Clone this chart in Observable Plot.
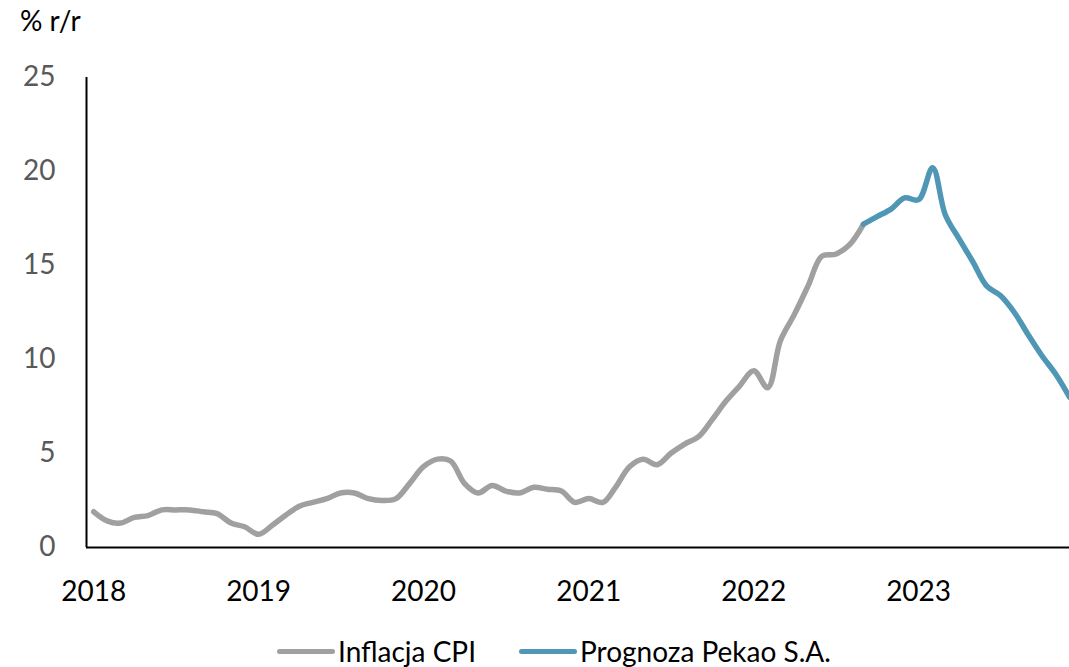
<!DOCTYPE html>
<html>
<head>
<meta charset="utf-8">
<script src="https://cdn.jsdelivr.net/npm/d3@7"></script>
<script src="https://cdn.jsdelivr.net/npm/@observablehq/plot@0.6"></script>
<style>
  html, body { margin: 0; padding: 0; background: #fff; }
  body { font-family: Lato, "Open Sans", sans-serif; }
  #wrap { position: relative; width: 1069px; height: 667px; overflow: hidden; }
  #title { position: absolute; left: 20px; top: 0px; font-size: 28px; color: #000; line-height: 40px; }
  #chart { position: absolute; left: 0; top: 40px; }
  .leg { position: absolute; top: 637px; height: 28px; display: flex; align-items: center; font-size: 28px; line-height: 28px; color: #000; white-space: nowrap; }
  .leg .sw { width: 58px; height: 5px; border-radius: 3px; margin-right: 3px; }
</style>
</head>
<body>
<div id="wrap">
  <div id="title">% r/r</div>
  <div id="chart"></div>
  <div class="leg" style="left:277px"><div class="sw" style="background:#a0a0a0"></div><span>Inflacja CPI</span></div>
  <div class="leg" style="left:519px"><div class="sw" style="background:#4f97b5"></div><span>Prognoza Pekao S.A.</span></div>
</div>
<script>
// Series names
const seriesNames = ["Inflacja CPI", "Prognoza Pekao S.A."];

// Inflacja CPI, monthly from 2018-01 to 2022-09 (% r/r)
const cpiStart = "2018-01-01";
const cpiValues = [
  1.9, 1.4, 1.3, 1.6, 1.7, 2.0, 2.0, 2.0, 1.9, 1.8, 1.3, 1.1,
  0.7, 1.2, 1.7, 2.2, 2.4, 2.6, 2.9, 2.9, 2.6, 2.5, 2.6, 3.4,
  4.3, 4.7, 4.6, 3.4, 2.9, 3.3, 3.0, 2.9, 3.2, 3.1, 3.0, 2.4,
  2.6, 2.4, 3.2, 4.3, 4.7, 4.4, 5.0, 5.5, 5.9, 6.8, 7.8, 8.6,
  9.4, 8.5, 11.0, 12.4, 13.9, 15.5, 15.6, 16.1, 17.2
];

// Prognoza Pekao S.A., monthly from 2022-09 to 2023-12 (% r/r)
const forecastStart = "2022-09-01";
const forecastValues = [
  17.2, 17.6, 18.0, 18.6, 18.5, 20.2, 17.7, 16.4, 15.2, 13.9, 13.4, 12.5, 11.3, 10.2, 9.2, 8.0
];

// Axis ticks
const yearTicks = ["2018", "2019", "2020", "2021", "2022", "2023"];
const yTicks = [0, 5, 10, 15, 20, 25];

const toRows = (start, values, series) => {
  const s = new Date(start);
  return values.map((v, i) => ({ date: d3.utcMonth.offset(s, i), value: v, series }));
};
const cpiRows = toRows(cpiStart, cpiValues, seriesNames[0]);
const fcRows = toRows(forecastStart, forecastValues, seriesNames[1]);

const xStart = new Date("2017-12-16");
const xEnd = new Date("2023-12-01");

const chart = Plot.plot({
  width: 1069,
  height: 575,
  marginLeft: 86,
  marginRight: 0,
  marginTop: 37,
  marginBottom: 68,
  style: { fontFamily: "Lato, 'Open Sans', sans-serif", fontSize: "28px", background: "#fff", overflow: "visible" },
  x: { type: "utc", domain: [xStart, xEnd] },
  y: { domain: [0, 25] },
  marks: [
    Plot.axisY({ ticks: yTicks, tickSize: 0, tickPadding: 31, label: null, fill: "#595959", fontSize: 28 }),
    Plot.axisX({ ticks: yearTicks.map(y => new Date(y + "-01-01")), tickFormat: d3.utcFormat("%Y"), tickSize: 0, tickPadding: 34, label: null, fill: "#000", fontSize: 28 }),
    Plot.line(cpiRows, { x: "date", y: "value", stroke: "#a0a0a0", strokeWidth: 5.5, curve: "catmull-rom", strokeLinecap: "round", strokeLinejoin: "round" }),
    Plot.line(fcRows, { x: "date", y: "value", stroke: "#4f97b5", strokeWidth: 5.5, curve: "catmull-rom", strokeLinecap: "round", strokeLinejoin: "round" }),
    Plot.ruleX([xStart], { y1: 0, y2: 25, stroke: "#000", strokeWidth: 2 }),
    Plot.ruleY([0], { stroke: "#000", strokeWidth: 2 })
  ]
});
document.getElementById("chart").appendChild(chart);
</script>
</body>
</html>
